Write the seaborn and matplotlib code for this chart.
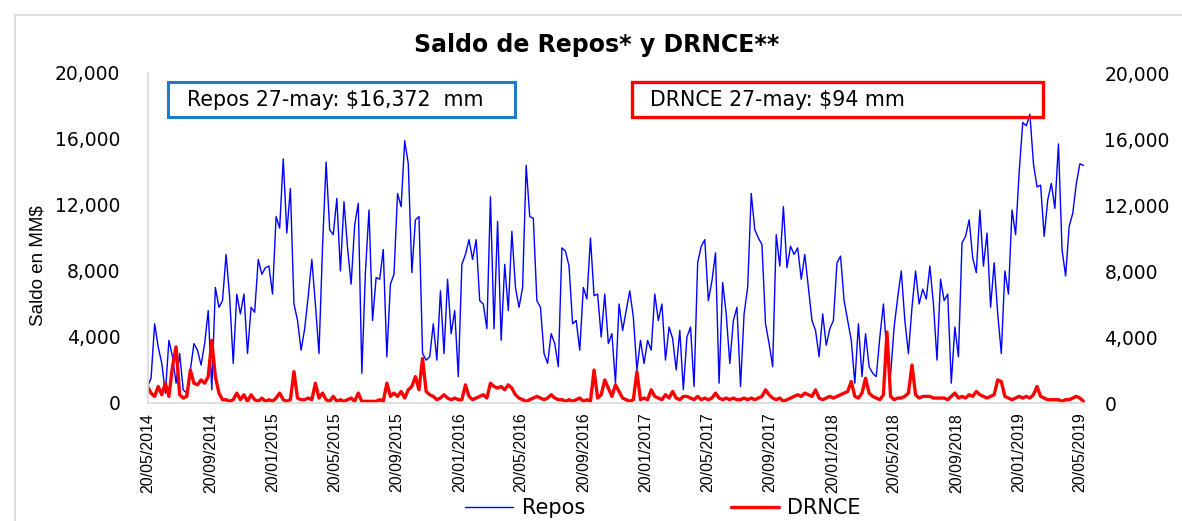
import numpy as np
import pandas as pd
import matplotlib
matplotlib.use("Agg")
import matplotlib.pyplot as plt
from matplotlib.patches import Rectangle
from matplotlib.lines import Line2D
from matplotlib.ticker import FuncFormatter
from matplotlib import font_manager
import seaborn as sns

# saldos semanales (miles de MM$), del 19/05/2014 al 27/05/2019
repos_k = [
    1.0, 1.5, 4.8, 3.4, 2.4, 0.6, 3.8, 2.8, 1.2, 3.0,
    0.8, 0.6, 2.0, 3.6, 3.2, 2.3, 3.6, 5.6, 0.8, 7.0,
    5.8, 6.2, 9.0, 6.4, 2.4, 6.6, 5.4, 6.6, 3.0, 5.8,
    5.5, 8.7, 7.8, 8.2, 8.3, 6.6, 11.3, 10.6, 14.8, 10.3,
    13.0, 6.0, 5.0, 3.2, 4.5, 6.5, 8.7, 6.0, 3.0, 9.5,
    14.6, 10.5, 10.2, 12.4, 8.0, 12.2, 9.4, 7.2, 10.8, 12.1,
    1.8, 7.9, 11.7, 5.0, 7.6, 7.5, 9.3, 2.8, 7.2, 7.8,
    12.7, 11.9, 15.9, 14.5, 7.9, 11.1, 11.3, 3.0, 2.6, 2.8,
    4.8, 2.6, 6.8, 3.0, 7.5, 4.2, 5.6, 1.6, 8.4, 9.0,
    9.9, 8.7, 9.9, 6.2, 6.0, 4.5, 12.5, 4.5, 11.0, 3.8,
    8.4, 5.6, 10.4, 7.0, 5.8, 7.0, 14.4, 11.3, 11.2, 6.2,
    5.8, 3.0, 2.4, 4.2, 3.6, 2.2, 9.4, 9.2, 8.3, 4.8,
    5.0, 3.2, 7.0, 6.3, 10.0, 6.5, 6.6, 4.0, 6.6, 3.6,
    4.2, 1.2, 6.0, 4.4, 5.6, 6.8, 5.2, 2.0, 3.8, 2.4,
    3.8, 3.2, 6.6, 5.0, 6.0, 2.6, 4.6, 3.9, 2.0, 4.4,
    0.8, 4.0, 4.6, 1.0, 8.5, 9.5, 9.9, 6.2, 7.4, 9.1,
    1.2, 7.3, 5.4, 2.4, 5.0, 5.8, 1.0, 5.4, 7.0, 12.7,
    10.5, 10.0, 9.6, 4.8, 3.6, 2.2, 10.2, 8.3, 11.9, 8.2,
    9.5, 9.0, 9.4, 7.5, 9.0, 7.0, 5.0, 4.4, 2.8, 5.4,
    3.5, 4.5, 5.0, 8.5, 8.9, 6.2, 5.0, 3.8, 1.2, 4.8,
    1.6, 4.2, 2.2, 1.8, 1.6, 4.0, 6.0, 2.8, 1.7, 4.6,
    6.4, 8.0, 5.0, 3.0, 5.8, 8.0, 6.0, 6.9, 6.3, 8.3,
    6.0, 2.6, 7.5, 6.2, 6.6, 1.2, 4.6, 2.8, 9.7, 10.1,
    11.1, 8.8, 7.9, 11.7, 8.3, 10.3, 5.8, 8.5, 5.4, 3.0,
    8.0, 6.6, 11.7, 10.2, 14.0, 17.0, 16.8, 17.5, 14.5, 13.1,
    13.2, 10.1, 12.3, 13.3, 11.8, 15.7, 9.3, 7.7, 10.7, 11.5,
    13.3, 14.5, 14.4,
]

drnce_k = [
    1.0, 0.6, 0.4, 1.0, 0.5, 1.2, 0.4, 2.2, 3.4, 0.5,
    0.3, 0.4, 2.0, 1.2, 1.1, 1.4, 1.2, 1.6, 3.8, 1.6,
    0.6, 0.2, 0.2, 0.1, 0.2, 0.6, 0.2, 0.5, 0.1, 0.5,
    0.2, 0.1, 0.3, 0.1, 0.2, 0.1, 0.3, 0.6, 0.2, 0.1,
    0.2, 1.9, 0.3, 0.2, 0.2, 0.3, 0.2, 1.2, 0.3, 0.6,
    0.2, 0.1, 0.4, 0.1, 0.2, 0.1, 0.2, 0.3, 0.1, 0.6,
    0.1, 0.1, 0.1, 0.1, 0.1, 0.2, 0.1, 1.2, 0.4, 0.6,
    0.4, 0.7, 0.3, 0.8, 1.0, 1.6, 0.8, 2.7, 0.7, 0.5,
    0.4, 0.2, 0.3, 0.5, 0.3, 0.2, 0.3, 0.2, 0.2, 1.1,
    0.4, 0.2, 0.3, 0.4, 0.5, 0.3, 1.2, 1.0, 0.9, 1.0,
    0.8, 1.1, 0.9, 0.5, 0.3, 0.2, 0.1, 0.2, 0.3, 0.4,
    0.3, 0.2, 0.3, 0.5, 0.3, 0.2, 0.2, 0.1, 0.2, 0.1,
    0.2, 0.3, 0.1, 0.2, 0.1, 2.0, 0.3, 0.5, 1.4, 0.9,
    0.4, 1.1, 0.7, 0.3, 0.2, 0.1, 0.2, 1.9, 0.2, 0.3,
    0.2, 0.8, 0.4, 0.3, 0.2, 0.5, 0.3, 0.7, 0.3, 0.2,
    0.4, 0.4, 0.3, 0.2, 0.4, 0.2, 0.3, 0.2, 0.3, 0.6,
    0.3, 0.2, 0.3, 0.2, 0.3, 0.2, 0.2, 0.3, 0.2, 0.3,
    0.2, 0.3, 0.4, 0.8, 0.5, 0.3, 0.2, 0.3, 0.1, 0.2,
    0.3, 0.4, 0.5, 0.4, 0.6, 0.5, 0.4, 0.8, 0.3, 0.2,
    0.3, 0.4, 0.3, 0.4, 0.5, 0.6, 0.7, 1.3, 0.4, 0.3,
    0.6, 1.5, 0.6, 0.4, 0.3, 0.2, 0.5, 4.3, 0.4, 0.2,
    0.3, 0.3, 0.4, 0.6, 2.3, 0.5, 0.3, 0.4, 0.4, 0.4,
    0.3, 0.3, 0.3, 0.3, 0.2, 0.4, 0.6, 0.3, 0.4, 0.3,
    0.5, 0.4, 0.7, 0.5, 0.4, 0.3, 0.4, 0.5, 1.4, 1.3,
    0.4, 0.3, 0.2, 0.3, 0.4, 0.3, 0.4, 0.3, 0.5, 1.0,
    0.4, 0.3, 0.2, 0.2, 0.2, 0.2, 0.1, 0.2, 0.2, 0.3,
    0.4, 0.3, 0.1,
]

fechas = pd.date_range("2014-05-19", periods=len(repos_k), freq="7D")
df = pd.DataFrame({
    "fecha": fechas,
    "Repos": np.array(repos_k) * 1000,
    "DRNCE": np.array(drnce_k) * 1000,
})

ticks_fecha = pd.date_range("2014-05-20", "2019-05-20", freq=pd.DateOffset(months=4))
ticks_y = [0, 4000, 8000, 12000, 16000, 20000]

sns.set_theme(style="white")
plt.rcParams["font.family"] = ["DejaVu Sans"]
plt.rcParams["text.color"] = "black"

instaladas = {f.name for f in font_manager.fontManager.ttflist}
narrow = "Liberation Sans Narrow" if "Liberation Sans Narrow" in instaladas else "Liberation Sans"

W, H = 1182, 521
fig = plt.figure(figsize=(W / 100, H / 100), dpi=100)
ax = fig.add_axes([148 / W, 1 - 403 / H, 937 / W, 330 / H])

sns.lineplot(data=df, x="fecha", y="Repos", color="#0000FF", lw=1.0, ax=ax,
             estimator=None, label="Repos")
sns.lineplot(data=df, x="fecha", y="DRNCE", color="#FF0000", lw=2.4, ax=ax,
             estimator=None, label="DRNCE")

handles, labels = ax.get_legend_handles_labels()
ax.get_legend().remove()

ax.set_xlim(pd.Timestamp("2014-05-20"), pd.Timestamp("2019-05-30"))
ax.set_ylim(0, 20000)
ax.set_xlabel("")
ax.set_ylabel("")

fmt = FuncFormatter(lambda v, p: f"{v:,.0f}")
ax.set_yticks(ticks_y)
ax.yaxis.set_major_formatter(fmt)
ax.tick_params(axis="y", length=0, pad=20, labelsize=13.5, colors="black")

ax.set_xticks(ticks_fecha)
ax.set_xticklabels([d.strftime("%d/%m/%Y") for d in ticks_fecha], rotation=90,
                   family="Liberation Sans", fontsize=11.5)
ax.tick_params(axis="x", length=0, pad=7, colors="black")

for s in ["top", "right"]:
    ax.spines[s].set_visible(False)
ax.spines["left"].set_color("#D9D9D9")
ax.spines["bottom"].set_color("#D9D9D9")
ax.spines["left"].set_linewidth(1.2)
ax.spines["bottom"].set_linewidth(1.2)

ax2 = ax.twinx()
ax2.set_ylim(0, 20000)
ax2.set_yticks(ticks_y)
ax2.yaxis.set_major_formatter(fmt)
ax2.tick_params(axis="y", length=0, pad=14, labelsize=13.5, colors="black")
for s in ax2.spines.values():
    s.set_visible(False)
ax2.grid(False)

fig.text(597 / W, 1 - 45 / H, "Saldo de Repos* y DRNCE**", ha="center", va="center",
         fontsize=17, fontweight="bold", family="DejaVu Sans", color="black")
fig.text(38 / W, 1 - 266 / H, r"Saldo en MM\$", rotation=90, ha="center", va="center",
         fontsize=13.5, family=narrow, color="black")

# recuadros con el ultimo dato
fig.add_artist(Rectangle((168 / W, 1 - 117 / H), 347 / W, 35 / H, transform=fig.transFigure,
                         fill=False, ec="#1F7BC8", lw=2.2))
fig.text(187 / W, 1 - 100 / H, r"Repos 27-may: \$16,372  mm", ha="left", va="center",
         fontsize=14.8, color="black")
fig.add_artist(Rectangle((632 / W, 1 - 117 / H), 411 / W, 35 / H, transform=fig.transFigure,
                         fill=False, ec="#FF0000", lw=2.4))
fig.text(650 / W, 1 - 100 / H, r"DRNCE 27-may: \$94 mm", ha="left", va="center",
         fontsize=14.8, color="black")

# marco exterior del grafico
fig.add_artist(Line2D([15 / W, 15 / W], [0, 1 - 15 / H], transform=fig.transFigure,
                      color="#D9D9D9", lw=1.2))
fig.add_artist(Line2D([15 / W, 1], [1 - 15 / H, 1 - 15 / H], transform=fig.transFigure,
                      color="#D9D9D9", lw=1.2))

leg = fig.legend(handles, labels, loc="center", bbox_to_anchor=(663 / W, 1 - 508 / H), ncol=2,
                 frameon=False, fontsize=15, handlelength=2.3, columnspacing=7.0,
                 handletextpad=0.4)
for t in leg.get_texts():
    t.set_color("black")

fig.savefig("out.png", dpi=100)
